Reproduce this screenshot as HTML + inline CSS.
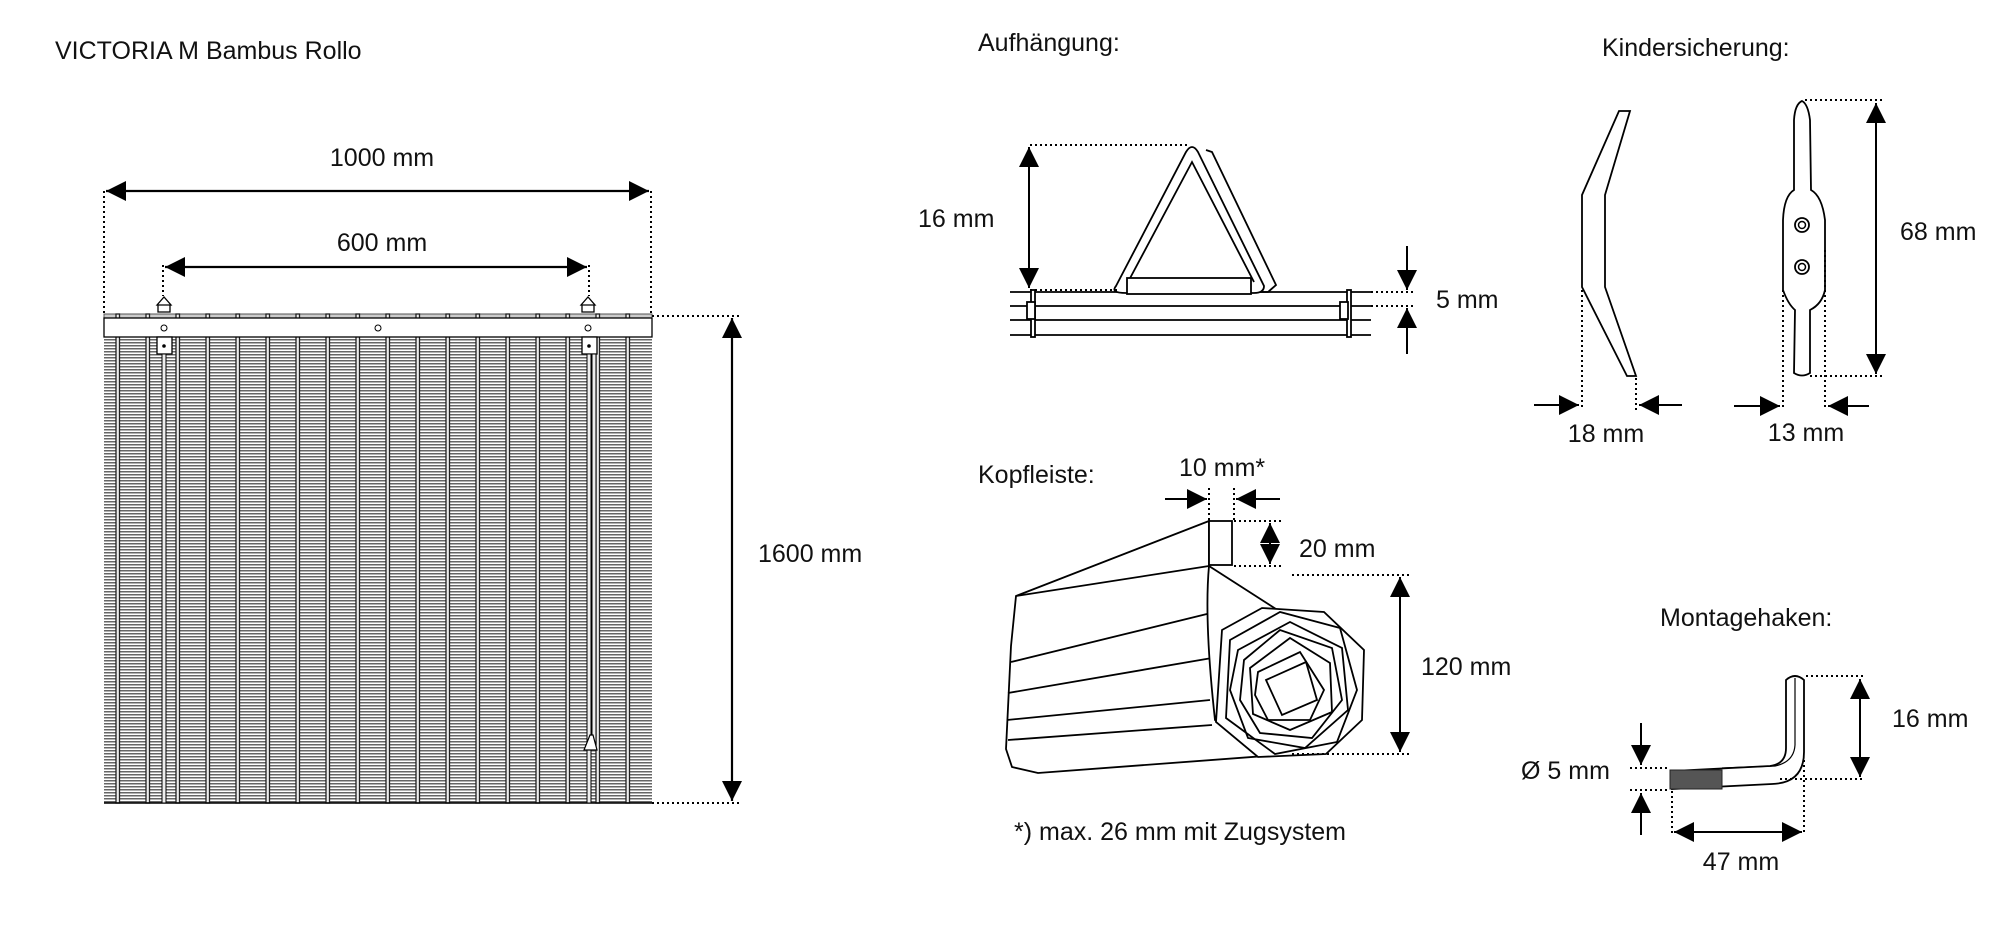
<!DOCTYPE html>
<html><head><meta charset="utf-8"><style>
html,body{margin:0;padding:0;background:#fff}
svg{display:block}
text{font-family:"Liberation Sans",sans-serif;font-size:25px;fill:#111}
</style></head><body>
<svg width="2000" height="925" viewBox="0 0 2000 925" xmlns="http://www.w3.org/2000/svg">
<defs>
<marker id="b" viewBox="0 0 10 10" refX="10" refY="5" markerWidth="20" markerHeight="20" orient="auto-start-reverse" markerUnits="userSpaceOnUse"><path d="M0,0L10,5L0,10z" fill="#000"/></marker>
<pattern id="h" width="10" height="3" patternUnits="userSpaceOnUse"><rect width="10" height="3" fill="#fff"/><rect y="0" width="10" height="1.5" fill="#666"/></pattern>
</defs>
<g fill="none" stroke="#000">
<text x="55" y="59" stroke="none">VICTORIA  M Bambus Rollo</text>

<rect x="104" y="337" width="548" height="466" fill="url(#h)" stroke="none"/>
<rect x="104" y="314" width="548" height="4" fill="#ccc" stroke="#555" stroke-width="1"/>
<g stroke="#222" stroke-width="1.3" fill="#eee">
<rect x="116" y="314" width="3.5" height="489"/><rect x="146" y="314" width="3.5" height="489"/><rect x="176" y="314" width="3.5" height="489"/><rect x="206" y="314" width="3.5" height="489"/><rect x="236" y="314" width="3.5" height="489"/><rect x="266" y="314" width="3.5" height="489"/><rect x="296" y="314" width="3.5" height="489"/><rect x="326" y="314" width="3.5" height="489"/><rect x="356" y="314" width="3.5" height="489"/><rect x="386" y="314" width="3.5" height="489"/><rect x="416" y="314" width="3.5" height="489"/><rect x="446" y="314" width="3.5" height="489"/><rect x="476" y="314" width="3.5" height="489"/><rect x="506" y="314" width="3.5" height="489"/><rect x="536" y="314" width="3.5" height="489"/><rect x="566" y="314" width="3.5" height="489"/><rect x="596" y="314" width="3.5" height="489"/><rect x="626" y="314" width="3.5" height="489"/>
</g>
<rect x="104" y="318" width="548" height="19" fill="#fff" stroke-width="1.3"/>
<line x1="104" y1="803" x2="652" y2="803" stroke-width="1.5"/>
<circle cx="164" cy="328" r="3"/><circle cx="378" cy="328" r="3"/><circle cx="588" cy="328" r="3"/>
<rect x="157" y="337" width="15" height="17" fill="#fff" stroke-width="1.3"/><circle cx="164" cy="346" r="1.3" fill="#000"/>
<rect x="582" y="337" width="15" height="17" fill="#fff" stroke-width="1.3"/><circle cx="589" cy="346" r="1.3" fill="#000"/>
<rect x="162" y="354" width="4" height="449" fill="#eee" stroke-width="1"/>
<rect x="587" y="354" width="4" height="449" fill="#eee" stroke-width="1"/>
<rect x="592" y="354" width="4" height="390" fill="#eee" stroke-width="1"/>
<path d="M590,735 L584,750 L597,750 L593,735Z" fill="#fff" stroke-width="1.2"/>
<g stroke-width="1.3" fill="#fff">
<path d="M158,312 L158,305 L170,305 L170,312Z M157,305 L164,297 L171,305Z"/>
<path d="M582,312 L582,305 L594,305 L594,312Z M581,305 L588,297 L595,305Z"/>
</g>
<g stroke-width="2" stroke-dasharray="2 3">
<line x1="104" y1="191" x2="104" y2="314"/><line x1="651" y1="191" x2="651" y2="314"/>
<line x1="163" y1="265" x2="163" y2="296"/><line x1="589" y1="265" x2="589" y2="296"/>
<line x1="652" y1="316" x2="740" y2="316"/><line x1="652" y1="803" x2="740" y2="803"/>
</g>
<g stroke-width="2.2">
<line x1="106" y1="191" x2="649" y2="191" marker-start="url(#b)" marker-end="url(#b)"/>
<line x1="165" y1="267" x2="587" y2="267" marker-start="url(#b)" marker-end="url(#b)"/>
<line x1="732" y1="318" x2="732" y2="801" marker-start="url(#b)" marker-end="url(#b)"/>
</g>
<text x="382" y="166" stroke="none" text-anchor="middle">1000 mm</text>
<text x="382" y="251" stroke="none" text-anchor="middle">600 mm</text>
<text x="758" y="562" stroke="none">1600 mm</text>

<text x="978" y="51" stroke="none">Aufhängung:</text>
<g stroke-width="1.8">
<line x1="1010" y1="292" x2="1371" y2="292"/><line x1="1010" y1="306" x2="1371" y2="306"/>
<line x1="1010" y1="320" x2="1371" y2="320"/><line x1="1010" y1="335" x2="1371" y2="335"/>
<rect x="1031" y="290" width="4" height="47" fill="#fff"/><rect x="1347" y="290" width="4" height="47" fill="#fff"/>
<rect x="1027" y="302" width="8" height="17" fill="#fff"/><rect x="1340" y="302" width="8" height="17" fill="#fff"/>
<path d="M1206,150 L1212,152 L1276,285 L1268,292 L1250,292" />
<path d="M1116,286 L1186,152 Q1192,142 1198,152 L1264,286 Q1264,293 1254,293 L1126,293 Q1110,293 1116,286Z" fill="#fff"/>
<path d="M1128,282 L1192,162 L1254,282" />
<rect x="1127" y="278" width="124" height="16" fill="#fff"/>
</g>
<g stroke-width="2" stroke-dasharray="2 3">
<line x1="1030" y1="145" x2="1190" y2="145"/><line x1="1030" y1="290" x2="1120" y2="290"/>
<line x1="1371" y1="292" x2="1415" y2="292"/><line x1="1371" y1="306" x2="1415" y2="306"/>
</g>
<g stroke-width="2">
<line x1="1029" y1="147" x2="1029" y2="288" marker-start="url(#b)" marker-end="url(#b)"/>
<line x1="1407" y1="246" x2="1407" y2="290" marker-end="url(#b)"/>
<line x1="1407" y1="354" x2="1407" y2="308" marker-end="url(#b)"/>
</g>
<text x="918" y="227" stroke="none">16 mm</text>
<text x="1436" y="308" stroke="none">5 mm</text>

<text x="1602" y="56" stroke="none">Kindersicherung:</text>
<path d="M1619,111 L1630,111 L1605,195 L1605,287 L1636,376 L1627,376 L1582,287 L1582,195Z" stroke-width="1.8" fill="#fff"/>
<path d="M1802,101 Q1795,104 1794,120 L1794,190 Q1784,196 1783,220 L1783,290 Q1788,304 1795,310 L1794,373 Q1802,378 1810,373 L1810,310 Q1822,304 1825,290 L1825,220 Q1822,196 1811,190 L1810,120 Q1808,104 1802,101Z" stroke-width="1.8" fill="#fff"/>
<circle cx="1802" cy="225" r="7" stroke-width="1.8"/><circle cx="1802" cy="225" r="3.5" stroke-width="1.5"/>
<circle cx="1802" cy="267" r="7" stroke-width="1.8"/><circle cx="1802" cy="267" r="3.5" stroke-width="1.5"/>
<g stroke-width="2" stroke-dasharray="2 3">
<line x1="1582" y1="290" x2="1582" y2="410"/><line x1="1636" y1="378" x2="1636" y2="410"/>
<line x1="1783" y1="290" x2="1783" y2="410"/><line x1="1825" y1="250" x2="1825" y2="410"/>
<line x1="1805" y1="100" x2="1885" y2="100"/><line x1="1810" y1="376" x2="1885" y2="376"/>
</g>
<g stroke-width="2">
<line x1="1534" y1="405" x2="1579" y2="405" marker-end="url(#b)"/>
<line x1="1682" y1="405" x2="1639" y2="405" marker-end="url(#b)"/>
<line x1="1734" y1="406" x2="1780" y2="406" marker-end="url(#b)"/>
<line x1="1869" y1="406" x2="1828" y2="406" marker-end="url(#b)"/>
<line x1="1876" y1="103" x2="1876" y2="374" marker-start="url(#b)" marker-end="url(#b)"/>
</g>
<text x="1606" y="442" stroke="none" text-anchor="middle">18 mm</text>
<text x="1806" y="441" stroke="none" text-anchor="middle">13 mm</text>
<text x="1900" y="240" stroke="none">68 mm</text>

<text x="978" y="483" stroke="none">Kopfleiste:</text>
<text x="1179" y="476" stroke="none">10 mm*</text>
<g stroke-width="1.8" fill="#fff">
<path d="M1209,521 L1016,596 L1011,646 L1006,749 L1012,767 L1038,773 L1292,754 L1290,618 L1209,566Z"/>
<line x1="1016" y1="596" x2="1209" y2="566"/>
<line x1="1011" y1="662" x2="1215" y2="612"/>
<line x1="1008" y1="693" x2="1212" y2="658"/>
<line x1="1007" y1="720" x2="1210" y2="700"/>
<line x1="1008" y1="740" x2="1212" y2="725"/>
<path d="M1209,566 Q1204,620 1215,720 L1240,740"/>
<rect x="1209" y="521" width="23" height="44"/>
<path d="M1222,630 L1262,608 L1324,612 L1364,650 L1362,720 L1326,754 L1258,757 L1216,722 Z"/>
<path d="M1230,640 L1280,612 L1340,628 L1357,690 L1337,742 L1275,754 L1226,718 Z" fill="none"/>
<path d="M1238,650 L1290,622 L1342,648 L1348,710 L1305,748 L1248,738 L1230,690 Z" fill="none"/>
<path d="M1244,660 L1280,630 L1332,648 L1342,700 L1312,738 L1260,733 L1240,700 Z" fill="none"/>
<path d="M1250,668 L1290,638 L1330,663 L1332,712 L1290,730 L1253,714 Z" fill="none"/>
<path d="M1258,672 L1300,652 L1324,690 L1310,720 L1268,720 L1255,695 Z" fill="none"/>
<path d="M1266,680 L1306,662 L1317,700 L1282,715 Z" fill="none"/>
</g>
<g stroke-width="2" stroke-dasharray="2 3">
<line x1="1209" y1="488" x2="1209" y2="520"/><line x1="1234" y1="488" x2="1234" y2="520"/>
<line x1="1234" y1="521" x2="1282" y2="521"/><line x1="1234" y1="566" x2="1282" y2="566"/>
<line x1="1292" y1="575" x2="1410" y2="575"/><line x1="1292" y1="754" x2="1410" y2="754"/>
</g>
<g stroke-width="2">
<line x1="1165" y1="499" x2="1207" y2="499" marker-end="url(#b)"/>
<line x1="1280" y1="499" x2="1236" y2="499" marker-end="url(#b)"/>
<line x1="1270" y1="523" x2="1270" y2="564" marker-start="url(#b)" marker-end="url(#b)"/>
<line x1="1400" y1="577" x2="1400" y2="752" marker-start="url(#b)" marker-end="url(#b)"/>
</g>
<text x="1299" y="557" stroke="none">20 mm</text>
<text x="1421" y="675" stroke="none">120 mm</text>
<text x="1014" y="840" stroke="none">*) max. 26 mm mit Zugsystem</text>

<text x="1660" y="626" stroke="none">Montagehaken:</text>
<path d="M1672,771 L1770,766 Q1786,764 1786,748 L1786,680 Q1795,672 1804,680 L1804,752 Q1804,783 1772,784 L1672,789Z" stroke-width="1.8" fill="#fff"/>
<path d="M1722,768 L1775,766 Q1794,762 1795,745 L1795,678" stroke-width="1.2"/>
<rect x="1670" y="770" width="52" height="19" fill="#555" stroke="#222"/>
<g stroke-width="2" stroke-dasharray="2 3">
<line x1="1806" y1="676" x2="1865" y2="676"/><line x1="1780" y1="779" x2="1865" y2="779"/>
<line x1="1630" y1="768" x2="1670" y2="768"/><line x1="1630" y1="790" x2="1670" y2="790"/>
<line x1="1672" y1="791" x2="1672" y2="835"/><line x1="1804" y1="760" x2="1804" y2="835"/>
</g>
<g stroke-width="2">
<line x1="1860" y1="679" x2="1860" y2="777" marker-start="url(#b)" marker-end="url(#b)"/>
<line x1="1641" y1="723" x2="1641" y2="765" marker-end="url(#b)"/>
<line x1="1641" y1="835" x2="1641" y2="793" marker-end="url(#b)"/>
<line x1="1674" y1="832" x2="1802" y2="832" marker-start="url(#b)" marker-end="url(#b)"/>
</g>
<text x="1892" y="727" stroke="none">16 mm</text>
<text x="1521" y="779" stroke="none">Ø 5 mm</text>
<text x="1741" y="870" stroke="none" text-anchor="middle">47 mm</text>
</g>
</svg>
</body></html>
